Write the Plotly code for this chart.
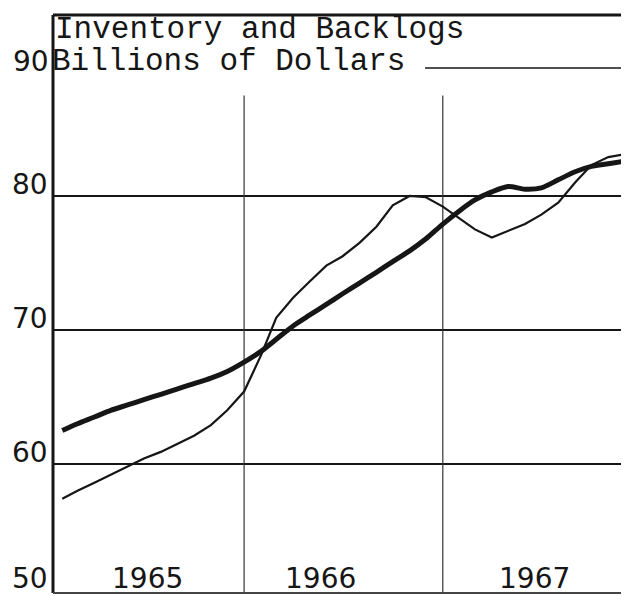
import plotly.graph_objects as go

# Monthly observations, Feb 1965 .. Dec 1967
months = [f"{1965 + (m // 12)}-{(m % 12) + 1:02d}-01" for m in range(1, 36)]

inventory = [62.5, 63.0, 63.5, 64.0, 64.4, 64.8, 65.2, 65.6, 66.0, 66.4, 66.9,
             67.6, 68.4, 69.3, 70.3, 71.1, 71.9, 72.7, 73.5, 74.3, 75.1, 75.9,
             76.8, 77.9, 78.9, 79.7, 80.3, 80.7, 80.5, 80.6, 81.2, 81.8, 82.2,
             82.4, 82.6]

backlogs = [57.4, 58.0, 58.6, 59.2, 59.8, 60.4, 60.9, 61.5, 62.1, 62.9, 64.0,
            65.4, 68.1, 70.9, 72.4, 73.6, 74.8, 75.5, 76.5, 77.7, 79.3, 80.0,
            79.9, 79.2, 78.3, 77.5, 76.9, 77.4, 77.9, 78.6, 79.5, 81.0, 82.3,
            82.9, 83.1]

y_ticks = [60, 70, 80]
y_tick_text = ["60", "70", "80"]
y_bottom_label = "50"
y_top_label = "90"
year_labels = ["1965", "1966", "1967"]
year_label_pos = ["1965-07-07", "1966-05-21", "1967-06-19"]
year_lines = ["1966-01-01", "1967-01-01"]
title_1 = "Inventory and Backlogs"
title_2 = "Billions of Dollars"

INK = "#161616"
SANS = "DejaVu Sans"
MONO = "Liberation Mono, Courier New, monospace"

fig = go.Figure()
fig.add_trace(go.Scatter(x=months, y=inventory, mode="lines",
                         line=dict(color=INK, width=5, shape="spline", smoothing=0.8),
                         name="Inventory", hoverinfo="x+y"))
fig.add_trace(go.Scatter(x=months, y=backlogs, mode="lines",
                         line=dict(color=INK, width=2.2),
                         name="Backlogs", hoverinfo="x+y"))

shapes = []
for v in y_ticks:
    shapes.append(dict(type="line", xref="paper", yref="y", x0=0, x1=1, y0=v, y1=v,
                       line=dict(color=INK, width=2), layer="below"))
shapes.append(dict(type="line", xref="paper", yref="y", x0=0.646, x1=1, y0=89.55, y1=89.55,
                   line=dict(color=INK, width=1.5), layer="below"))
for d in year_lines:
    shapes.append(dict(type="line", xref="x", yref="y", x0=d, x1=d, y0=50.37, y1=87.5,
                       line=dict(color="#333333", width=1.2), layer="below"))
shapes.append(dict(type="line", xref="paper", yref="paper", x0=0, x1=0, y0=0, y1=1,
                   line=dict(color=INK, width=3)))
shapes.append(dict(type="line", xref="paper", yref="paper", x0=0, x1=1, y0=1, y1=1,
                   line=dict(color=INK, width=3)))
shapes.append(dict(type="line", xref="paper", yref="paper", x0=0, x1=1, y0=0, y1=0,
                   line=dict(color="#444444", width=2)))

annotations = []
for v, t in zip(y_ticks, y_tick_text):
    annotations.append(dict(xref="paper", yref="y", x=0, y=v, text=t, showarrow=False,
                            xanchor="right", yanchor="middle", xshift=-3, yshift=11,
                            font=dict(family=SANS, size=28, color=INK)))
annotations.append(dict(xref="paper", yref="paper", x=0, y=0.025, text=y_bottom_label,
                        showarrow=False, xanchor="right", yanchor="middle", xshift=-3,
                        font=dict(family=SANS, size=28, color=INK)))
annotations.append(dict(xref="paper", yref="y", x=0, y=90, text=y_top_label, showarrow=False,
                        xanchor="right", yanchor="middle", xshift=-2, yshift=0,
                        font=dict(family=SANS, size=28, color=INK)))
for t, p in zip(year_labels, year_label_pos):
    annotations.append(dict(xref="x", yref="paper", x=p, y=0.025, text=t, showarrow=False,
                            xanchor="center", yanchor="middle",
                            font=dict(family=SANS, size=28, color=INK)))
annotations.append(dict(xref="paper", yref="y", x=0, y=92.4, text=title_1, showarrow=False,
                        xanchor="left", yanchor="middle", xshift=0,
                        font=dict(family=MONO, size=31, color=INK)))
annotations.append(dict(xref="paper", yref="y", x=0, y=90.0, text=title_2, showarrow=False,
                        xanchor="left", yanchor="middle", xshift=-3,
                        font=dict(family=MONO, size=31, color=INK)))

# page body has an 8px margin, so the figure is 8px smaller and margins shifted
fig.update_layout(
    width=621, height=588,
    margin=dict(l=45, r=0, t=7, b=3),
    paper_bgcolor="white", plot_bgcolor="white",
    showlegend=False,
    shapes=shapes, annotations=annotations,
    xaxis=dict(type="date", range=["1965-01-15", "1967-12-09"], showgrid=False,
               zeroline=False, showticklabels=False, ticks="", showline=False),
    yaxis=dict(range=[50.37, 93.5], showgrid=False, zeroline=False,
               showticklabels=False, ticks="", showline=False),
)

fig.write_html("out.html")
